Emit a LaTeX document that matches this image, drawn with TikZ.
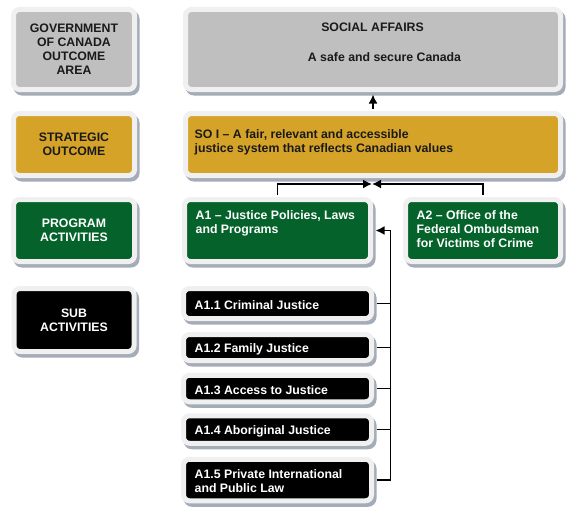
\documentclass[tikz,border=0pt]{standalone}
\usepackage{fontspec}
\setmainfont{Liberation Sans}
\usetikzlibrary{calc,shadows,arrows.meta}

\definecolor{boxgrey}{HTML}{BFBFBF}
\definecolor{boxgold}{HTML}{D5A328}
\definecolor{boxgreen}{HTML}{05622A}
\definecolor{framegrey}{HTML}{F0F0F0}
\definecolor{shadowgrey}{HTML}{A4ACB8}
\definecolor{darktext}{HTML}{1A1A1A}

\tikzset{
  box/.style={draw=framegrey, line width=5pt, rounded corners=6pt, inner sep=0pt,
    align=center, font=\fontsize{12.3}{14}\selectfont\bfseries,
    drop shadow={shadow xshift=2.5pt, shadow yshift=-3.5pt, fill=shadowgrey,
      draw=shadowgrey, line width=5pt, opacity=1}},
  greybox/.style={box, fill=boxgrey, text=darktext},
  goldbox/.style={box, fill=boxgold, text=darktext},
  greenbox/.style={box, fill=boxgreen, text=white},
  blackbox/.style={box, fill=black, text=white},
  lbl/.style={inner sep=0pt, align=left, anchor=base west,
    font=\fontsize{12.3}{14}\selectfont\bfseries},
  link/.style={line width=1.6pt, shorten <=2.5pt},
  arr/.style={link, -{Latex[length=9pt,width=9pt]}, shorten >=2.5pt}
}

\begin{document}
\begin{tikzpicture}[x=1pt,y=-1pt]
\useasboundingbox (0,0) rectangle (580,511);

% left column
\node[greybox, minimum width=121pt, minimum height=80pt] (goc) at (74,49.5) {GOVERNMENT\\OF CANADA\\OUTCOME\\AREA};
\node[goldbox, minimum width=121pt, minimum height=62pt] (sto) at (74,144.5) {STRATEGIC\\OUTCOME};
\node[greenbox, minimum width=121pt, minimum height=62pt] (pra) at (74,230.5) {PROGRAM\\ACTIVITIES};
\node[blackbox, minimum width=120pt, minimum height=63pt] (sba) at (74,320) {SUB\\ACTIVITIES};

% right column
\node[greybox, minimum width=375pt, minimum height=80pt] (soc) at (373,49.5) {};
\node[goldbox, minimum width=375pt, minimum height=62pt] (so1) at (373,144.5) {};
\node[greenbox, minimum width=186pt, minimum height=62pt] (a1) at (277.5,230.5) {};
\node[greenbox, minimum width=155pt, minimum height=62pt] (a2) at (483,230.5) {};

% multi-line labels sit on the baseline of their last line
\node[lbl, anchor=base, text=darktext] (soct) at ($(soc.north)+(-0.5,25)$) {SOCIAL AFFAIRS};
\node[lbl, anchor=base, text=darktext] (socs) at ($(soc.north)+(11.5,54)$) {A safe and secure Canada};
\node[lbl, text=darktext] (so1t) at ($(so1.north west)+(11.5,41)$) {SO I -- A fair, relevant and accessible\\justice system that reflects Canadian values};
\node[lbl, text=white] (a1t) at ($(a1.north west)+(13.5,36)$) {A1 -- Justice Policies, Laws\\and Programs};
\node[lbl, text=white] (a2t) at ($(a2.north west)+(13.5,50)$) {A2 -- Office of the\\Federal Ombudsman\\for Victims of Crime};

% sub activities
\foreach \n/\y/\h/\txt in {1/303.5/30/A1.1 Criminal Justice,
                           2/347.5/26/A1.2 Family Justice,
                           3/388.5/26.5/A1.3 Access to Justice,
                           4/429.5/27.5/A1.4 Aboriginal Justice,
                           5/480/41.5/A1.5 Private International\\and Public Law}
{
	\node[blackbox, minimum width=188pt, minimum height=\h pt] (s1\n) at (277.5,\y) {};
	\node[lbl, anchor=west, text=white] (s1\n t) at ($(s1\n.west)+(13.5,1.5)$) {\txt};
};

% connectors
\coordinate (jn) at (372,184);
\coordinate (sp) at ($(a1.east)+(17.5,0)$);

\draw[arr] (so1.north) -- (soc.south);
\draw[arr, shorten >=0pt] (a1.north) |- (jn);
\draw[arr, shorten >=0pt] (a2.north) |- (jn);
\draw[arr] (s15.east) -| (sp) -- (a1.east);
\foreach \n in {1,...,4}
{
	\draw[link] (s1\n.east) -- (s1\n.east -| sp);
};
\end{tikzpicture}
\end{document}
